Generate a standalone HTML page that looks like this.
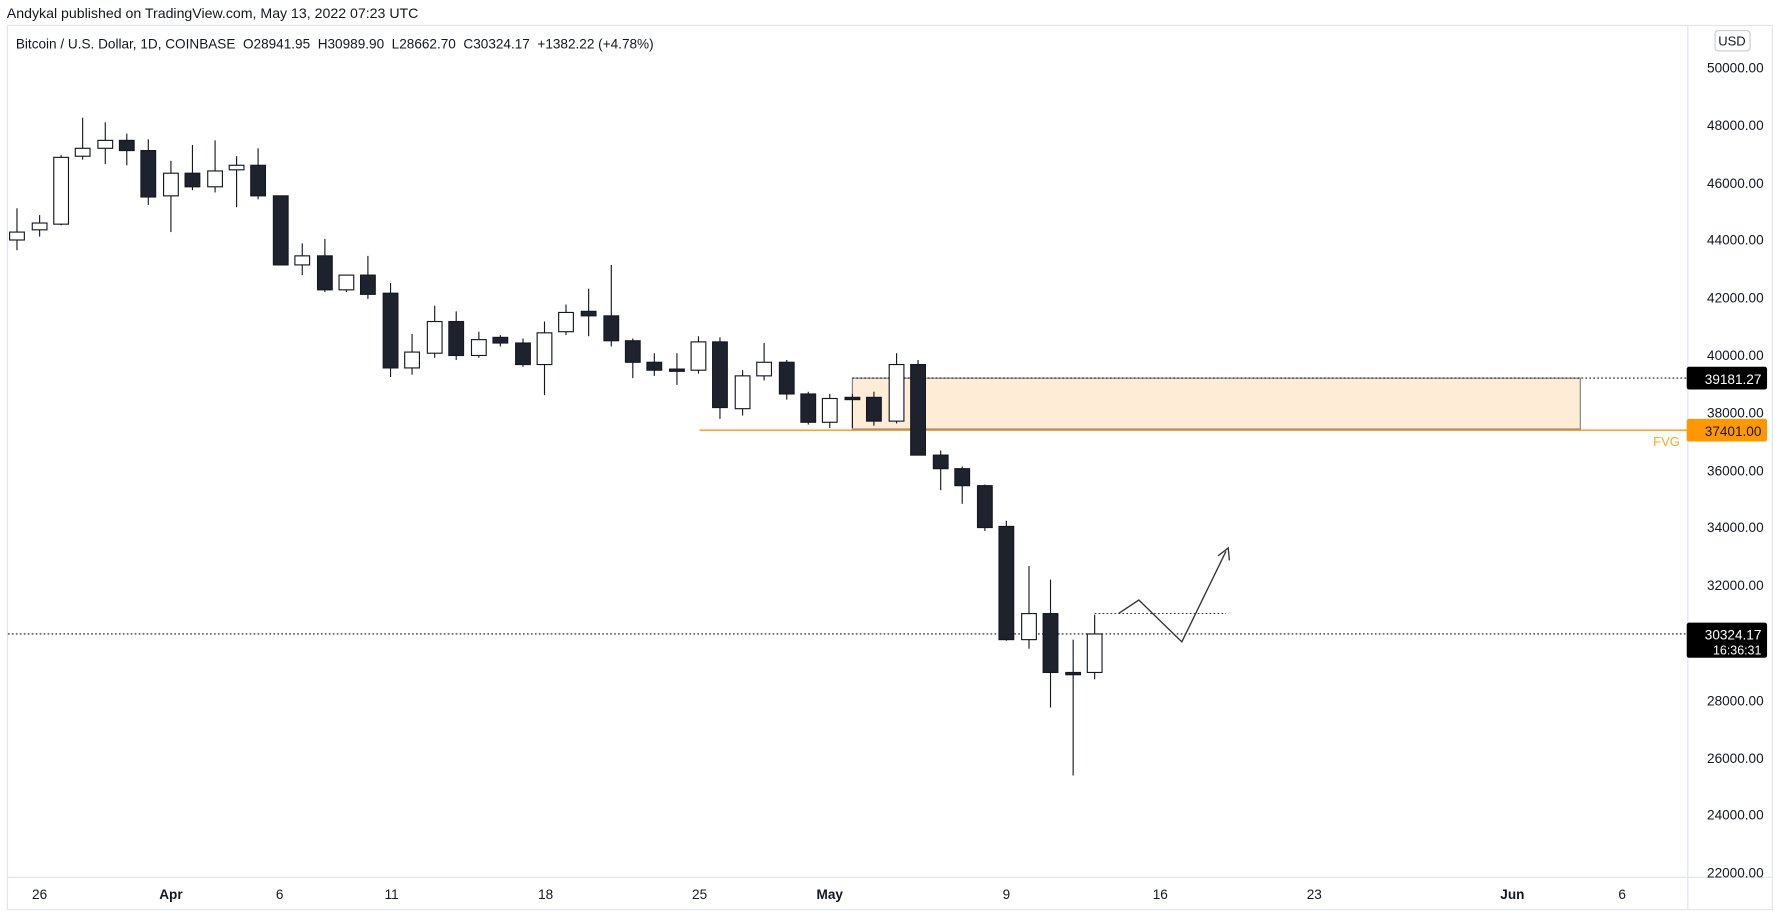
<!DOCTYPE html>
<html><head><meta charset="utf-8"><style>
html,body{margin:0;padding:0;background:#fff;width:1775px;height:917px;overflow:hidden}
svg{display:block}
text{font-family:"Liberation Sans",sans-serif;white-space:pre}
</style></head><body>
<svg width="1775" height="917" viewBox="0 0 1568 810" preserveAspectRatio="none">
<rect width="1568" height="810" fill="#fff"/>
<text x="6" y="16" font-size="12.5" fill="#131722">Andykal published on TradingView.com, May 13, 2022 07:23 UTC</text>
<rect x="6.5" y="22.5" width="1559" height="781" fill="none" stroke="#e0e3eb"/>
<line x1="1491" y1="23" x2="1491" y2="803" stroke="#e0e3eb"/>
<line x1="7" y1="775" x2="1565" y2="775" stroke="#e0e3eb"/>
<text x="14" y="43" font-size="12" fill="#131722" xml:space="preserve">Bitcoin / U.S. Dollar, 1D, COINBASE  O28941.95  H30989.90  L28662.70  C30324.17  +1382.22 (+4.78%)</text>
<rect x="1515" y="27" width="31" height="18" rx="3" fill="#fff" stroke="#c8cbd2"/>
<text x="1530" y="40" font-size="11.5" fill="#131722" text-anchor="middle">USD</text>
<g font-size="12" fill="#131722" text-anchor="end">
<text x="1558" y="64">50000.00</text><text x="1558" y="115">48000.00</text><text x="1558" y="166">46000.00</text><text x="1558" y="216">44000.00</text><text x="1558" y="267">42000.00</text><text x="1558" y="318">40000.00</text><text x="1558" y="369">38000.00</text><text x="1558" y="420">36000.00</text><text x="1558" y="470">34000.00</text><text x="1558" y="521">32000.00</text><text x="1558" y="623">28000.00</text><text x="1558" y="674">26000.00</text><text x="1558" y="724">24000.00</text><text x="1558" y="775">22000.00</text>
</g>
<g font-size="12" fill="#131722" text-anchor="middle">
<text x="35" y="794">26</text><text x="151" y="794" font-weight="bold">Apr</text><text x="247" y="794">6</text><text x="346" y="794">11</text><text x="482" y="794">18</text><text x="618" y="794">25</text><text x="733" y="794" font-weight="bold">May</text><text x="889" y="794">9</text><text x="1025" y="794">16</text><text x="1161" y="794">23</text><text x="1336" y="794" font-weight="bold">Jun</text><text x="1433" y="794">6</text>
</g>
<rect x="753" y="334" width="643" height="45" fill="#feecd6" stroke="#7b7f8a" stroke-width="1"/>
<line x1="753" y1="334" x2="1491" y2="334" stroke="#131722" stroke-dasharray="1.5 2" stroke-width="1"/>
<line x1="618" y1="380" x2="1491" y2="380" stroke="#ff9800" stroke-width="1.2"/>
<text x="1484" y="394" font-size="11.5" fill="#ffa726" text-anchor="end">FVG</text>
<line x1="7" y1="560" x2="1491" y2="560" stroke="#131722" stroke-dasharray="1.5 2" stroke-width="1"/>
<line x1="967" y1="542" x2="1083" y2="542" stroke="#131722" stroke-dasharray="1.5 2" stroke-width="0.8"/>
<polyline points="988,542 1006,530 1044,567 1083,487" fill="none" stroke="#333" stroke-width="1.2"/>
<polyline points="1076,491 1085,484 1086,495" fill="none" stroke="#333" stroke-width="1.2"/>
<g stroke="#131722" stroke-width="1">
<line x1="15" y1="184" x2="15" y2="221"/><rect x="8.5" y="205" width="13" height="7" fill="#fff"/>
<line x1="35" y1="190" x2="35" y2="209"/><rect x="28.5" y="197" width="13" height="6" fill="#fff"/>
<line x1="54" y1="137" x2="54" y2="199"/><rect x="47.5" y="139" width="13" height="59" fill="#fff"/>
<line x1="73" y1="104" x2="73" y2="141"/><rect x="66.5" y="131" width="13" height="7" fill="#fff"/>
<line x1="93" y1="108" x2="93" y2="145"/><rect x="86.5" y="124" width="13" height="7" fill="#fff"/>
<line x1="112" y1="118" x2="112" y2="146"/><rect x="105.5" y="124" width="13" height="9" fill="#1e222d"/>
<line x1="131" y1="123" x2="131" y2="181"/><rect x="124.5" y="133" width="13" height="41" fill="#1e222d"/>
<line x1="151" y1="142" x2="151" y2="205"/><rect x="144.5" y="153" width="13" height="20" fill="#fff"/>
<line x1="170" y1="128" x2="170" y2="168"/><rect x="163.5" y="153" width="13" height="12" fill="#1e222d"/>
<line x1="190" y1="124" x2="190" y2="170"/><rect x="183.5" y="151" width="13" height="14" fill="#fff"/>
<line x1="209" y1="138" x2="209" y2="183"/><rect x="202.5" y="146" width="13" height="4" fill="#fff"/>
<line x1="228" y1="131" x2="228" y2="176"/><rect x="221.5" y="146" width="13" height="27" fill="#1e222d"/>
<line x1="248" y1="173" x2="248" y2="234"/><rect x="241.5" y="173" width="13" height="61" fill="#1e222d"/>
<line x1="267" y1="215" x2="267" y2="243"/><rect x="260.5" y="226" width="13" height="8" fill="#fff"/>
<line x1="287" y1="211" x2="287" y2="258"/><rect x="280.5" y="226" width="13" height="30" fill="#1e222d"/>
<line x1="306" y1="243" x2="306" y2="258"/><rect x="299.5" y="243" width="13" height="13" fill="#fff"/>
<line x1="325" y1="226" x2="325" y2="264"/><rect x="318.5" y="243" width="13" height="17" fill="#1e222d"/>
<line x1="345" y1="250" x2="345" y2="333"/><rect x="338.5" y="259" width="13" height="66" fill="#1e222d"/>
<line x1="364" y1="295" x2="364" y2="331"/><rect x="357.5" y="311" width="13" height="14" fill="#fff"/>
<line x1="384" y1="270" x2="384" y2="316"/><rect x="377.5" y="284" width="13" height="28" fill="#fff"/>
<line x1="403" y1="275" x2="403" y2="318"/><rect x="396.5" y="284" width="13" height="30" fill="#1e222d"/>
<line x1="423" y1="293" x2="423" y2="316"/><rect x="416.5" y="300" width="13" height="14" fill="#fff"/>
<line x1="442" y1="296" x2="442" y2="306"/><rect x="435.5" y="298" width="13" height="5" fill="#1e222d"/>
<line x1="462" y1="299" x2="462" y2="324"/><rect x="455.5" y="303" width="13" height="19" fill="#1e222d"/>
<line x1="481" y1="284" x2="481" y2="349"/><rect x="474.5" y="294" width="13" height="28" fill="#fff"/>
<line x1="500" y1="269" x2="500" y2="296"/><rect x="493.5" y="276" width="13" height="17" fill="#fff"/>
<line x1="520" y1="255" x2="520" y2="297"/><rect x="513.5" y="275" width="13" height="4" fill="#1e222d"/>
<line x1="540" y1="234" x2="540" y2="306"/><rect x="533.5" y="279" width="13" height="22" fill="#1e222d"/>
<line x1="559" y1="299" x2="559" y2="334"/><rect x="552.5" y="301" width="13" height="19" fill="#1e222d"/>
<line x1="578" y1="312" x2="578" y2="332"/><rect x="571.5" y="320" width="13" height="7" fill="#1e222d"/>
<line x1="598" y1="312" x2="598" y2="340"/><rect x="591.5" y="326" width="13" height="2" fill="#1e222d"/>
<line x1="617" y1="297" x2="617" y2="330"/><rect x="610.5" y="302" width="13" height="25" fill="#fff"/>
<line x1="636" y1="298" x2="636" y2="370"/><rect x="629.5" y="302" width="13" height="58" fill="#1e222d"/>
<line x1="656" y1="327" x2="656" y2="367"/><rect x="649.5" y="332" width="13" height="29" fill="#fff"/>
<line x1="675" y1="303" x2="675" y2="336"/><rect x="668.5" y="320" width="13" height="12" fill="#fff"/>
<line x1="695" y1="318" x2="695" y2="353"/><rect x="688.5" y="320" width="13" height="28" fill="#1e222d"/>
<line x1="714" y1="346" x2="714" y2="375"/><rect x="707.5" y="348" width="13" height="25" fill="#1e222d"/>
<line x1="733" y1="348" x2="733" y2="378"/><rect x="726.5" y="352" width="13" height="21" fill="#fff"/>
<line x1="753" y1="348" x2="753" y2="378"/><rect x="746.5" y="351" width="13" height="2" fill="#1e222d"/>
<line x1="772" y1="346" x2="772" y2="376"/><rect x="765.5" y="351" width="13" height="21" fill="#1e222d"/>
<line x1="792" y1="312" x2="792" y2="374"/><rect x="785.5" y="322" width="13" height="50" fill="#fff"/>
<line x1="811" y1="318" x2="811" y2="402"/><rect x="804.5" y="322" width="13" height="80" fill="#1e222d"/>
<line x1="831" y1="398" x2="831" y2="433"/><rect x="824.5" y="402" width="13" height="12" fill="#1e222d"/>
<line x1="850" y1="412" x2="850" y2="445"/><rect x="843.5" y="414" width="13" height="15" fill="#1e222d"/>
<line x1="870" y1="428" x2="870" y2="469"/><rect x="863.5" y="429" width="13" height="37" fill="#1e222d"/>
<line x1="889" y1="460" x2="889" y2="566"/><rect x="882.5" y="465" width="13" height="100" fill="#1e222d"/>
<line x1="909" y1="500" x2="909" y2="573"/><rect x="902.5" y="542" width="13" height="23" fill="#fff"/>
<line x1="928" y1="512" x2="928" y2="625"/><rect x="921.5" y="542" width="13" height="52" fill="#1e222d"/>
<line x1="948" y1="565" x2="948" y2="685"/><rect x="941.5" y="594" width="13" height="2" fill="#1e222d"/>
<line x1="967" y1="543" x2="967" y2="600"/><rect x="960.5" y="560" width="13" height="34" fill="#fff"/>
</g>
<rect x="1490" y="324" width="71" height="20" rx="2" fill="#000"/>
<text x="1556" y="339" font-size="12" fill="#fff" text-anchor="end">39181.27</text>
<rect x="1490" y="370" width="71" height="20" rx="2" fill="#ff9800"/>
<text x="1556" y="385" font-size="12" fill="#131722" text-anchor="end">37401.00</text>
<rect x="1490" y="550" width="71" height="31" rx="2" fill="#000"/>
<text x="1556" y="565" font-size="12" fill="#fff" text-anchor="end">30324.17</text>
<text x="1556" y="578" font-size="11" fill="#fff" text-anchor="end">16:36:31</text>
</svg>
</body></html>
